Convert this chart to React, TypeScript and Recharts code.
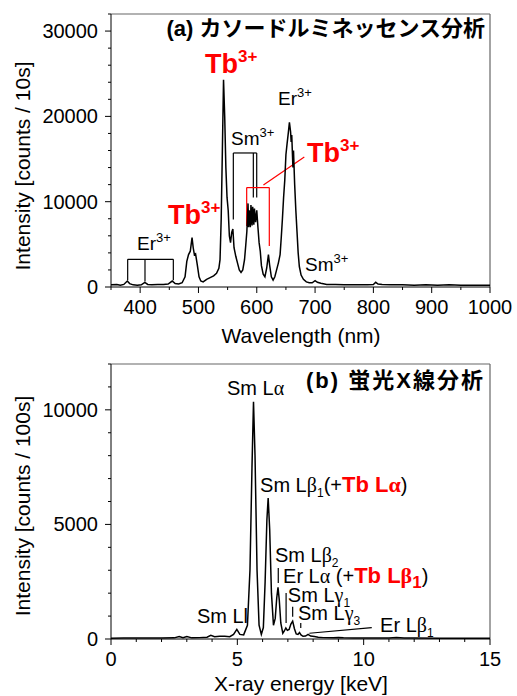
import { LineChart, Line, XAxis, YAxis, ReferenceLine, ReferenceDot } from 'recharts';

// (a) cathodoluminescence spectrum
const clNm = [
  350, 360, 366, 372, 378, 382, 388, 395, 402, 408, 413, 420, 430, 440, 448, 455, 460, 466, 472, 477,
  480, 483, 486, 489, 491, 493, 495, 498, 501, 504, 508, 514, 520, 526, 531, 535, 537, 539, 541, 543,
  545, 547, 549, 551, 553, 555, 557, 559, 561, 564, 567, 570, 573, 576, 579, 581, 583, 585, 586, 587,
  589, 590, 592, 593, 595, 596, 598, 600, 602, 604, 606, 608, 611, 614, 617, 620, 622, 625, 628, 631,
  634, 637, 640, 642, 644, 646, 648, 650, 652, 654, 656, 658, 659, 660, 662, 663, 665, 667, 669, 671,
  673, 676, 680, 685, 690, 695, 700, 704, 710, 720, 735, 750, 770, 790, 800, 804, 808, 815, 830, 850,
  870, 890, 910, 930, 950, 970, 990, 1000,
];
const clCounts = [
  250, 300, 200, 300, 700, 400, 250, 200, 250, 550, 300, 250, 300, 300, 350, 700, 400, 350, 500, 1200,
  3000, 3800, 4200, 5800, 4600, 3800, 3900, 2600, 1200, 700, 600, 900, 1100, 1300, 1600, 2200, 3200, 8000, 16000, 24300,
  20000, 14000, 10500, 9000, 6000, 5200, 6400, 6800, 4600, 3600, 2800, 2000, 1700, 2000, 3200, 4800, 6500, 9800, 7000, 9000,
  7000, 9600, 7200, 9400, 7300, 9200, 7600, 9000, 7000, 5200, 4200, 2500, 1500, 1200, 2200, 3800, 2600, 1200, 800, 1200,
  2000, 2800, 3800, 5800, 8000, 10500, 12500, 15500, 16800, 18000, 19300, 18200, 17000, 17800, 14000, 16000, 12000, 9000, 6500, 4000,
  2400, 1400, 900, 600, 500, 500, 750, 550, 450, 300, 300, 250, 250, 250, 300, 550, 350, 300, 250, 250,
  200, 250, 200, 250, 200, 200, 200, 200,
];
const clXTicks = [350, 400, 450, 500, 550, 600, 650, 700, 750, 800, 850, 900, 950, 1000];
const clXLabels = [400, 500, 600, 700, 800, 900, 1000];
const clYTicks = [0, 2000, 4000, 6000, 8000, 10000, 12000, 14000, 16000, 18000, 20000, 22000, 24000, 26000, 28000, 30000, 32000];
const clYLabels = [0, 10000, 20000, 30000];

// (b) X-ray fluorescence spectrum
const xrfKeV = [
  0, 0.5, 1, 1.5, 2, 2.5, 2.7, 2.85, 3, 3.2, 3.5, 3.8, 3.95, 4.1, 4.3, 4.5, 4.7, 4.85, 4.98, 5.1,
  5.25, 5.4, 5.5, 5.58, 5.64, 5.7, 5.78, 5.86, 5.95, 6.03, 6.1, 6.17, 6.22, 6.28, 6.35, 6.43, 6.5, 6.56, 6.61, 6.66,
  6.72, 6.8, 6.86, 6.92, 6.98, 7.05, 7.12, 7.19, 7.26, 7.33, 7.4, 7.46, 7.52, 7.6, 7.7, 7.8, 7.9, 8.05, 8.2, 8.4,
  8.8, 9, 9.2, 9.6, 10, 10.5, 11, 11.3, 11.6, 12, 13, 14, 15,
];
const xrfCounts = [
  30, 40, 40, 40, 40, 50, 110, 60, 110, 50, 60, 80, 160, 100, 120, 120, 100, 200, 420, 200,
  180, 600, 3000, 7500, 10350, 8000, 3000, 600, 200, 500, 2500, 5200, 6150, 4800, 2000, 600, 900, 1800, 2250, 1700,
  700, 250, 350, 480, 380, 420, 650, 780, 450, 220, 200, 280, 180, 120, 130, 200, 130, 110, 80, 60,
  50, 70, 50, 40, 40, 40, 40, 60, 40, 40, 30, 30, 30,
];
const xrfXTicks = [0, 1, 2, 3, 4, 5, 6, 7, 8, 9, 10, 11, 12, 13, 14, 15];
const xrfXLabels = [0, 5, 10, 15];
const xrfYTicks = [0, 1000, 2000, 3000, 4000, 5000, 6000, 7000, 8000, 9000, 10000, 11000, 12000];
const xrfYLabels = [0, 5000, 10000];

const clData = clNm.map((x, i) => ({ x, y: clCounts[i] }));
const xrfData = xrfKeV.map((x, i) => ({ x, y: xrfCounts[i] }));

const FONT = '"Liberation Sans", Arial, "Noto Sans CJK JP", sans-serif';
const GREEK = '"Liberation Serif", "DejaVu Serif", serif';
const RED = '#ff0000';

function BottomTick(props: any) {
  const { x, y, payload, labels } = props;
  const major = labels.includes(payload.value);
  return (
    <g>
      <line x1={x} x2={x} y1={y} y2={y + (major ? 6 : 3)} stroke="#000" />
      {major && (
        <text x={x} y={y + 27} textAnchor="middle" fontSize={20} fontFamily={FONT} fill="#000">
          {payload.value}
        </text>
      )}
    </g>
  );
}

function LeftTick(props: any) {
  const { x, y, payload, labels } = props;
  const major = labels.includes(payload.value);
  return (
    <g>
      <line x1={x} x2={x - (major ? 6 : 3)} y1={y} y2={y} stroke="#000" />
      {major && (
        <text x={x - 13} y={y + 7} textAnchor="end" fontSize={20} fontFamily={FONT} fill="#000">
          {payload.value}
        </text>
      )}
    </g>
  );
}

// text anchored at a data point (left end, baseline)
const note = (key: string, x: number, y: number, render: (px: number, py: number) => any) => (
  <ReferenceDot
    key={key}
    x={x}
    y={y}
    r={0}
    fill="none"
    stroke="none"
    label={(p: any) => {
      const vb = p.viewBox || p;
      return render(vb.x, vb.y);
    }}
  />
);

const seg = (key: string, x1: number, y1: number, x2: number, y2: number, color = '#000') => (
  <ReferenceLine
    key={key}
    segment={[{ x: x1, y: y1 }, { x: x2, y: y2 }]}
    stroke={color}
    strokeWidth={1.2}
  />
);

const ion = (px: number, py: number, el: string) => (
  <text x={px} y={py} fontFamily={FONT} fill="#000">
    <tspan fontSize={19}>{el}</tspan>
    <tspan fontSize={13} dy={-8}>3+</tspan>
  </text>
);

const tb = (px: number, py: number) => (
  <text x={px} y={py} fontFamily={FONT} fill={RED} fontWeight="bold">
    <tspan fontSize={27}>Tb</tspan>
    <tspan fontSize={17} dy={-11}>3+</tspan>
  </text>
);

function CLChart() {
  return (
    <LineChart width={517} height={350} data={clData} margin={{ top: 14, right: 27, bottom: 0, left: 0 }}>
      <XAxis
        dataKey="x"
        type="number"
        domain={[350, 1000]}
        ticks={clXTicks}
        interval={0}
        height={63}
        tickSize={0}
        tickMargin={0}
        tickLine={false}
        stroke="#000"
        tick={(p: any) => <BottomTick {...p} labels={clXLabels} />}
        label={() => (
          <text x={301} y={343} textAnchor="middle" fontSize={21} fontFamily={FONT} fill="#000">
            Wavelength (nm)
          </text>
        )}
      />
      <YAxis
        type="number"
        domain={[0, 32000]}
        ticks={clYTicks}
        interval={0}
        width={111}
        tickSize={0}
        tickMargin={0}
        tickLine={false}
        stroke="#000"
        tick={(p: any) => <LeftTick {...p} labels={clYLabels} />}
        label={() => (
          <text
            transform="translate(22,166) rotate(-90)"
            textAnchor="middle"
            dominantBaseline="central"
            fontSize={21}
            fontFamily={FONT}
            fill="#000"
          >
            Intensity [counts / 10s]
          </text>
        )}
      />
      <ReferenceLine y={32000} stroke="#666" strokeWidth={1.2} />
      <ReferenceLine x={1000} stroke="#666" strokeWidth={1.2} />

      {/* Er3+ bracket */}
      {seg('er-h', 378.6, 3240, 456.9, 3240)}
      {seg('er-1', 378.6, 3240, 378.6, 800)}
      {seg('er-2', 408.3, 3240, 408.3, 650)}
      {seg('er-3', 456.9, 3240, 456.9, 800)}
      {/* Sm3+ bracket */}
      {seg('sm-h', 559.8, 15710, 599.9, 15710)}
      {seg('sm-1', 559.8, 15710, 559.8, 7900)}
      {seg('sm-2', 594.1, 15710, 594.1, 10500)}
      {seg('sm-3', 599.9, 15710, 599.9, 10500)}
      {/* Tb3+ bracket (red) */}
      {seg('tb-h', 582.7, 11650, 621.5, 11650, RED)}
      {seg('tb-1', 582.7, 11650, 582.7, 7150, RED)}
      {seg('tb-2', 621.5, 11650, 621.5, 4800, RED)}
      {seg('tb-l', 611.4, 11950, 681.5, 15250, RED)}

      <Line dataKey="y" type="linear" stroke="#000" strokeWidth={1.5} dot={false} isAnimationActive={false} />

      {note('title', 991.4, 29425, (px, py) => (
        <text x={px} y={py} textAnchor="end" fontFamily={FONT} fontWeight="bold" fontSize={22} fill="#000">
          (a) カソードルミネッセンス分析
        </text>
      ))}
      {note('tb-top', 511.2, 25090, tb)}
      {note('tb-left', 447.8, 7385, tb)}
      {note('tb-right', 686.1, 14650, tb)}
      {note('er-top', 636.4, 21340, (px, py) => ion(px, py, 'Er'))}
      {note('sm-top', 555.8, 16650, (px, py) => ion(px, py, 'Sm'))}
      {note('er-left', 394.6, 4340, (px, py) => ion(px, py, 'Er'))}
      {note('sm-right', 682.7, 1875, (px, py) => ion(px, py, 'Sm'))}
    </LineChart>
  );
}

const blk = (s: number) => ({ fontSize: s, fill: '#000', fontWeight: 'normal' as const });
const red = (s: number) => ({ fontSize: s, fill: RED, fontWeight: 'bold' as const });
const gk = (c: string) => <tspan fontFamily={GREEK}>{c}</tspan>;

function XRFChart() {
  return (
    <LineChart width={517} height={346} data={xrfData} margin={{ top: 14, right: 27, bottom: 0, left: 0 }}>
      <XAxis
        dataKey="x"
        type="number"
        domain={[0, 15]}
        ticks={xrfXTicks}
        interval={0}
        height={57}
        tickSize={0}
        tickMargin={0}
        tickLine={false}
        stroke="#000"
        tick={(p: any) => <BottomTick {...p} labels={xrfXLabels} />}
        label={() => (
          <text x={301} y={341} textAnchor="middle" fontSize={21} fontFamily={FONT} fill="#000">
            X-ray energy [keV]
          </text>
        )}
      />
      <YAxis
        type="number"
        domain={[0, 12000]}
        ticks={xrfYTicks}
        interval={0}
        width={111}
        tickSize={0}
        tickMargin={0}
        tickLine={false}
        stroke="#000"
        tick={(p: any) => <LeftTick {...p} labels={xrfYLabels} />}
        label={() => (
          <text
            transform="translate(22,156) rotate(-90)"
            textAnchor="middle"
            dominantBaseline="central"
            fontSize={21}
            fontFamily={FONT}
            fill="#000"
          >
            Intensity [counts / 100s]
          </text>
        )}
      />
      <ReferenceLine y={12000} stroke="#666" strokeWidth={1.2} />
      <ReferenceLine x={15} stroke="#666" strokeWidth={1.2} />

      {seg('erla', 6.62, 3100, 6.62, 2440)}
      {seg('smg1', 6.93, 2010, 6.93, 700)}
      {seg('smg3', 7.19, 1410, 7.19, 970)}
      {seg('smg3b', 7.51, 700, 7.51, 480)}
      {seg('erlb', 7.85, 250, 10.32, 495)}

      <Line dataKey="y" type="linear" stroke="#000" strokeWidth={1.5} dot={false} isAnimationActive={false} />

      {note('title', 14.8, 10950, (px, py) => (
        <text x={px} y={py} textAnchor="end" fontFamily={FONT} fontWeight="bold" fontSize={22} letterSpacing={2} fill="#000">
          (b) 蛍光X線分析
        </text>
      ))}
      {note('smla', 4.59, 10646, (px, py) => (
        <text x={px} y={py} fontFamily={FONT} {...blk(20)}>Sm L{gk('α')}</text>
      ))}
      {note('smlb1', 5.9, 6427, (px, py) => (
        <text x={px} y={py} fontFamily={FONT} {...blk(20)}>
          <tspan>Sm L</tspan>
          {gk('β')}
          <tspan fontSize={12} dy={5}>1</tspan>
          <tspan dy={-5}>(+</tspan>
          <tspan {...red(22)}>Tb L</tspan>
          <tspan {...red(22)} fontFamily={GREEK}>α</tspan>
          <tspan>)</tspan>
        </text>
      ))}
      {note('smlb2', 6.49, 3373, (px, py) => (
        <text x={px} y={py} fontFamily={FONT} {...blk(20)}>
          <tspan>Sm L</tspan>
          {gk('β')}
          <tspan fontSize={12} dy={5}>2</tspan>
        </text>
      ))}
      {note('erla-t', 6.81, 2443, (px, py) => (
        <text x={px} y={py} fontFamily={FONT} {...blk(20)}>
          <tspan>Er L</tspan>
          {gk('α')}
          <tspan> (+</tspan>
          <tspan {...red(22)}>Tb L</tspan>
          <tspan {...red(22)} fontFamily={GREEK}>β</tspan>
          <tspan {...red(17)} dy={5}>1</tspan>
          <tspan dy={-5}>)</tspan>
        </text>
      ))}
      {note('smg1-t', 7.0, 1627, (px, py) => (
        <text x={px} y={py} fontFamily={FONT} {...blk(20)}>
          <tspan>Sm L</tspan>
          {gk('γ')}
          <tspan fontSize={12} dy={5}>1</tspan>
        </text>
      ))}
      {note('smg3-t', 7.4, 829, (px, py) => (
        <text x={px} y={py} fontFamily={FONT} {...blk(20)}>
          <tspan>Sm L</tspan>
          {gk('γ')}
          <tspan fontSize={12} dy={5}>3</tspan>
        </text>
      ))}
      {note('erlb-t', 10.65, 318, (px, py) => (
        <text x={px} y={py} fontFamily={FONT} {...blk(20)}>
          <tspan>Er L</tspan>
          {gk('β')}
          <tspan fontSize={12} dy={5}>1</tspan>
        </text>
      ))}
      {note('smll', 3.4, 711, (px, py) => (
        <text x={px} y={py} fontFamily={FONT} {...blk(20)}>Sm Ll</text>
      ))}
    </LineChart>
  );
}

export default function App() {
  return (
    <div style={{ position: 'absolute', left: 0, top: 0, width: 517, height: 696, background: '#fff' }}>
      <CLChart />
      <XRFChart />
    </div>
  );
}
